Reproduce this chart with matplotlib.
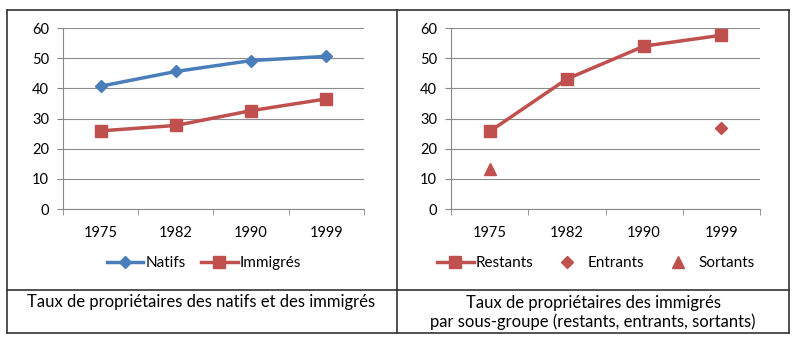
import matplotlib.pyplot as plt
from matplotlib.lines import Line2D
import numpy as np

years = ["1975", "1982", "1990", "1999"]
natifs = [40.7, 45.6, 49.2, 50.6]
immigres = [25.9, 27.7, 32.6, 36.5]
restants = [25.7, 43.1, 54.0, 57.6]
entrants = [np.nan, np.nan, np.nan, 26.7]
sortants = [13.2, np.nan, np.nan, np.nan]

BLUE = "#4A7EBB"
RED = "#C0504D"
W, H = 800, 350

plt.rcParams["font.family"] = ["Lato", "DejaVu Sans"]
plt.rcParams["font.size"] = 10.5

fig = plt.figure(figsize=(8, 3.5), dpi=100)


def px_axes(x0, y0, x1, y1):
    # pixel box (top-left origin) -> figure fraction
    return fig.add_axes([x0 / W, 1 - y1 / H, (x1 - x0) / W, (y1 - y0) / H])


def style(ax):
    x = np.arange(len(years))
    ax.set_xlim(-0.5, len(years) - 0.5)
    ax.set_ylim(0, 60)
    ax.set_yticks(range(0, 61, 10))
    ax.set_xticks(x)
    ax.set_xticklabels(years)
    ax.set_xticks(np.arange(-0.5, len(years)), minor=True)
    ax.tick_params(axis="x", which="major", length=0, pad=12)
    ax.tick_params(axis="x", which="minor", length=4, color="#888888")
    ax.tick_params(axis="y", length=4, color="#888888", pad=6)
    ax.grid(axis="y", color="#8c8c8c", linewidth=0.8)
    ax.set_axisbelow(True)
    for s in ["top", "right"]:
        ax.spines[s].set_visible(False)
    ax.spines["left"].set_color("#888888")
    ax.spines["bottom"].set_color("#888888")
    return x


leg_kw = dict(loc="center", frameon=False, handlelength=2.4, handletextpad=0.15,
              columnspacing=1.0, borderpad=0, fontsize=11)

# left chart
ax1 = px_axes(63, 28, 364, 209)
x = style(ax1)
l1, = ax1.plot(x, natifs, color=BLUE, lw=2.5, marker="D", ms=6, label="Natifs")
l2, = ax1.plot(x, immigres, color=RED, lw=2.5, marker="s", ms=8, label="Immigrés")
fig.legend(handles=[l1, l2], bbox_to_anchor=(204 / W, 1 - 263 / H), ncol=2, **leg_kw)

# right chart
ax2 = px_axes(451, 28, 760, 209)
x = style(ax2)
r1, = ax2.plot(x, restants, color=RED, lw=2.5, marker="s", ms=8, label="Restants")
r2, = ax2.plot(x, entrants, color=RED, lw=0, marker="D", ms=6, label="Entrants")
r3, = ax2.plot(x, sortants, color=RED, lw=0, marker="^", ms=8, label="Sortants")
fig.legend(handles=[r1, r2, r3], bbox_to_anchor=(596 / W, 1 - 263 / H), ncol=3, **leg_kw)

# captions
fig.text(201 / W, 1 - 302 / H, "Taux de propriétaires des natifs et des immigrés",
         ha="center", va="center", fontsize=12)
fig.text(593 / W, 1 - 312.5 / H,
         "Taux de propriétaires des immigrés\npar sous-groupe (restants, entrants, sortants)",
         ha="center", va="center", fontsize=12, linespacing=1.25)

# table borders
def hline(y, x0, x1):
    fig.add_artist(Line2D([x0 / W, x1 / W], [1 - y / H, 1 - y / H], color="#333333", lw=1.2))


def vline(x, y0, y1):
    fig.add_artist(Line2D([x / W, x / W], [1 - y0 / H, 1 - y1 / H], color="#333333", lw=1.2))


hline(10, 7, 789)
hline(290, 7, 789)
hline(333, 7, 789)
vline(7, 10, 333)
vline(397, 10, 333)
vline(789, 10, 333)

fig.savefig("out.png", dpi=100, facecolor="white")
